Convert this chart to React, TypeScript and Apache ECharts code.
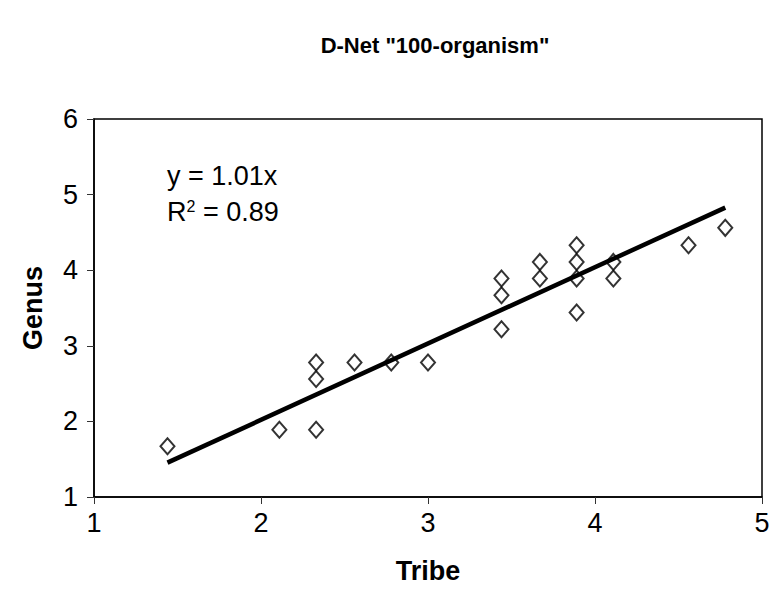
import React, { useEffect, useRef } from "react";
import * as echarts from "echarts";

const tribe = [1.44, 2.11, 2.33, 2.33, 2.33, 2.56, 2.78, 3.0, 3.44, 3.44, 3.44, 3.67, 3.67, 3.89, 3.89, 3.89, 3.89, 4.11, 4.11, 4.56, 4.78];
const genus = [1.67, 1.89, 1.89, 2.56, 2.78, 2.78, 2.78, 2.78, 3.22, 3.67, 3.89, 3.89, 4.11, 3.44, 3.89, 4.11, 4.33, 3.89, 4.11, 4.33, 4.56];
const slope = 1.01;
const xTicks = [1, 2, 3, 4, 5];
const yTicks = [1, 2, 3, 4, 5, 6];

const FONT = "Liberation Sans, Arial, sans-serif";

export default function App() {
  const ref = useRef<HTMLDivElement>(null);
  useEffect(() => {
    const chart = echarts.init(ref.current!, null, { renderer: "svg" });
    const pts = tribe.map((x, i) => [x, genus[i]]);
    const xmin = Math.min(...tribe);
    const xmax = Math.max(...tribe);
    const trend = [
      [xmin, slope * xmin],
      [xmax, slope * xmax],
    ];
    chart.setOption({
      animation: false,
      backgroundColor: "#fff",
      title: {
        text: 'D-Net "100-organism"',
        left: 430,
        textAlign: "center",
        top: 29,
        textStyle: { fontFamily: FONT, fontSize: 22, fontWeight: "bold", color: "#000" },
      },
      grid: {
        left: 94,
        right: 11,
        top: 119,
        bottom: 110,
        show: true,
        borderColor: "#000",
        borderWidth: 1.5,
        backgroundColor: "#fff",
      },
      xAxis: {
        type: "value",
        min: xTicks[0],
        max: xTicks[xTicks.length - 1],
        interval: 1,
        name: "Tribe",
        nameLocation: "middle",
        nameGap: 60,
        nameTextStyle: { fontFamily: FONT, fontSize: 27, fontWeight: "bold", color: "#000" },
        axisLine: { show: true, lineStyle: { color: "#000", width: 1.5 } },
        axisTick: { show: true, length: 7, lineStyle: { color: "#333" } },
        axisLabel: { fontFamily: FONT, fontSize: 27, color: "#000", margin: 12 },
        splitLine: { show: false },
      },
      yAxis: {
        type: "value",
        min: yTicks[0],
        max: yTicks[yTicks.length - 1],
        interval: 1,
        name: "Genus",
        nameLocation: "middle",
        nameGap: 48,
        nameTextStyle: { fontFamily: FONT, fontSize: 27, fontWeight: "bold", color: "#000" },
        axisLine: { show: true, lineStyle: { color: "#000", width: 1.5 } },
        axisTick: { show: true, length: 7, lineStyle: { color: "#333" } },
        axisLabel: { fontFamily: FONT, fontSize: 27, color: "#000", margin: 16 },
        splitLine: { show: false },
      },
      series: [
        {
          type: "scatter",
          data: pts,
          symbol: "diamond",
          symbolSize: [14, 16],
          itemStyle: { color: "rgba(255,255,255,0)", borderColor: "#000", borderWidth: 2 },
          z: 1,
        },
        {
          type: "line",
          data: trend,
          symbol: "none",
          lineStyle: { color: "#000", width: 4.5 },
          z: 2,
        },
      ],
      graphic: [
        {
          type: "text",
          left: 167,
          top: 162,
          style: {
            text: "y = 1.01x",
            fontFamily: FONT,
            fontSize: 27,
            fill: "#000",
          },
        },
        {
          type: "text",
          left: 167,
          top: 198,
          style: {
            text: "R{sup|2} = 0.89",
            fontFamily: FONT,
            fontSize: 27,
            fill: "#000",
            rich: {
              sup: { fontFamily: FONT, fontSize: 16, verticalAlign: "top", padding: [0, 0, 12, 0] },
            },
          },
        },
      ],
    });
    return () => chart.dispose();
  }, []);
  return (
    <div
      ref={ref}
      style={{ position: "fixed", left: 0, top: 0, width: 773, height: 607 }}
    />
  );
}
